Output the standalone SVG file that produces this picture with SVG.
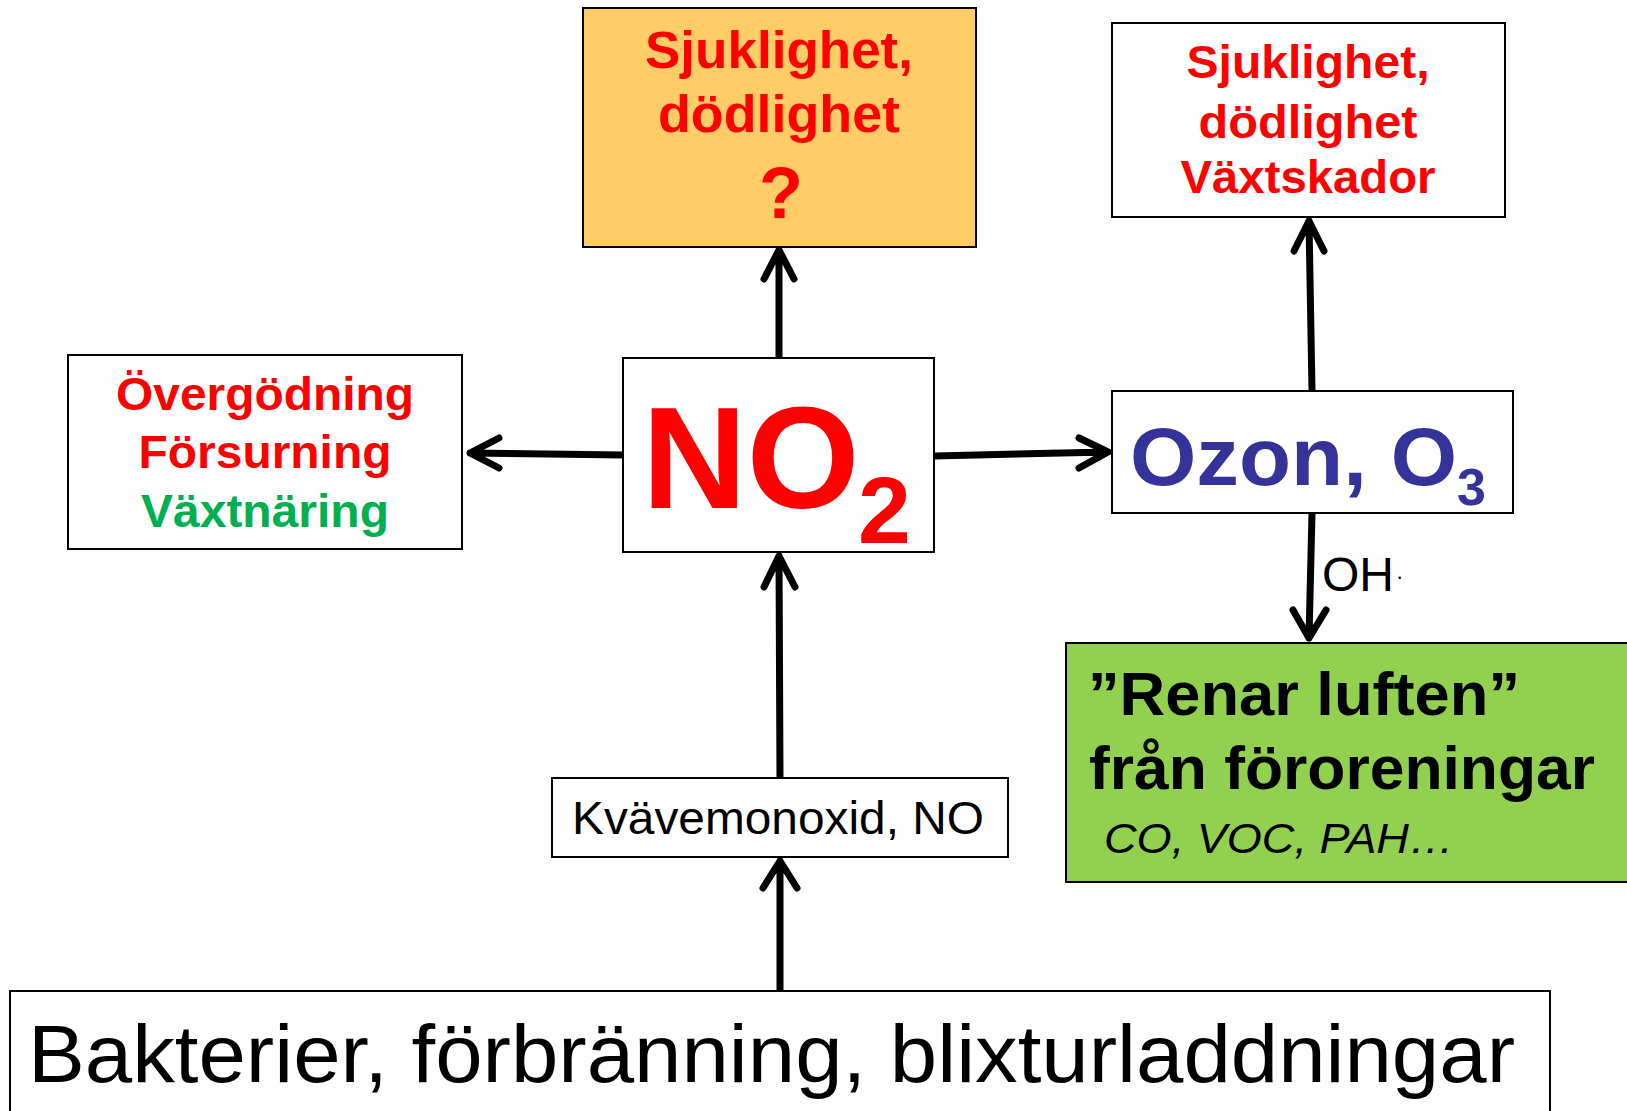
<svg xmlns="http://www.w3.org/2000/svg" width="1627" height="1111" viewBox="0 0 1627 1111">
<style>
.box{fill:#ffffff;stroke:#000000;stroke-width:2}
.b{font-family:"Liberation Sans",Arial,sans-serif;font-weight:bold}
.r{font-family:"Liberation Sans",Arial,sans-serif}
.red{fill:#ff0000}
.grn{fill:#00b050}
.blu{fill:#333399}
.blk{fill:#000000}
.c{text-anchor:middle}
.conn path{fill:none;stroke:#000000;stroke-width:7;stroke-linecap:round;stroke-linejoin:round}
</style>
<rect width="1627" height="1111" fill="#ffffff"/>
<g id="connectors" class="conn">
<path d="M779 358 L779 250 M764 279 L779 250 L794 279"/>
<path d="M623 455 L470 453 M499 438 L470 453 L499 468"/>
<path d="M934 456 L1108 452 M1079 438 L1108 452 L1079 468"/>
<path d="M1312 391 L1309 221 M1294 251 L1309 221 L1324 251"/>
<path d="M1312 513 L1309 638 M1293 610 L1309 638 L1326 610"/>
<path d="M780 778 L779 556 M764 587 L779 556 L795 587"/>
<path d="M780 991 L780 861 M763 888 L780 861 L797 888"/>
</g>
<g id="n-health-no2">
<rect x="583" y="8" width="393" height="239" fill="#ffcc66" stroke="#000000" stroke-width="2"/>
<text class="b red c" x="779" y="68" font-size="51" textLength="268" lengthAdjust="spacingAndGlyphs">Sjuklighet,</text>
<text class="b red c" x="779" y="132" font-size="51" textLength="242" lengthAdjust="spacingAndGlyphs">dödlighet</text>
<text class="b red c" x="781" y="218" font-size="72">?</text>
</g>
<g id="n-health-o3">
<rect class="box" x="1112" y="23" width="393" height="194"/>
<text class="b red c" x="1308" y="78" font-size="46" textLength="243" lengthAdjust="spacingAndGlyphs">Sjuklighet,</text>
<text class="b red c" x="1308" y="138" font-size="46" textLength="219" lengthAdjust="spacingAndGlyphs">dödlighet</text>
<text class="b red c" x="1308" y="193" font-size="46" textLength="255" lengthAdjust="spacingAndGlyphs">Växtskador</text>
</g>
<g id="n-effects">
<rect class="box" x="68" y="355" width="394" height="194"/>
<text class="b red c" x="265" y="410" font-size="46" textLength="298" lengthAdjust="spacingAndGlyphs">Övergödning</text>
<text class="b red c" x="265" y="468" font-size="46" textLength="253" lengthAdjust="spacingAndGlyphs">Försurning</text>
<text class="b grn c" x="265" y="527" font-size="46" textLength="248" lengthAdjust="spacingAndGlyphs">Växtnäring</text>
</g>
<g id="n-no2">
<rect class="box" x="623" y="358" width="311" height="194"/>
<text class="b red" x="642" y="508" font-size="145">NO</text>
<text class="b red" x="858" y="543" font-size="95">2</text>
</g>
<g id="n-ozon">
<rect class="box" x="1112" y="391" width="401" height="122"/>
<text class="b blu" x="1130" y="485" font-size="82" textLength="327" lengthAdjust="spacingAndGlyphs">Ozon, O</text>
<text class="b blu" x="1457" y="505" font-size="52">3</text>
</g>
<g id="l-oh">
<text class="r blk" x="1322" y="591" font-size="48">OH</text>
<text class="r blk" x="1396" y="584" font-size="22">·</text>
</g>
<g id="n-renar">
<rect x="1066" y="643" width="600" height="239" fill="#92d050" stroke="#000000" stroke-width="2"/>
<text class="b blk" x="1088" y="715" font-size="62" textLength="432" lengthAdjust="spacingAndGlyphs">”Renar luften”</text>
<text class="b blk" x="1089" y="789" font-size="62" textLength="506" lengthAdjust="spacingAndGlyphs">från föroreningar</text>
<text class="r blk" x="1104" y="853" font-size="42" font-style="italic" textLength="350" lengthAdjust="spacingAndGlyphs">CO, VOC, PAH…</text>
</g>
<g id="n-no">
<rect class="box" x="552" y="778" width="456" height="79"/>
<text class="r blk c" x="778" y="834" font-size="47" textLength="412" lengthAdjust="spacingAndGlyphs">Kvävemonoxid, NO</text>
</g>
<g id="n-sources">
<rect class="box" x="10" y="991" width="1540" height="140"/>
<text class="r blk" x="28" y="1082" font-size="82" textLength="1487" lengthAdjust="spacingAndGlyphs">Bakterier, förbränning, blixturladdningar</text>
</g>
</svg>
